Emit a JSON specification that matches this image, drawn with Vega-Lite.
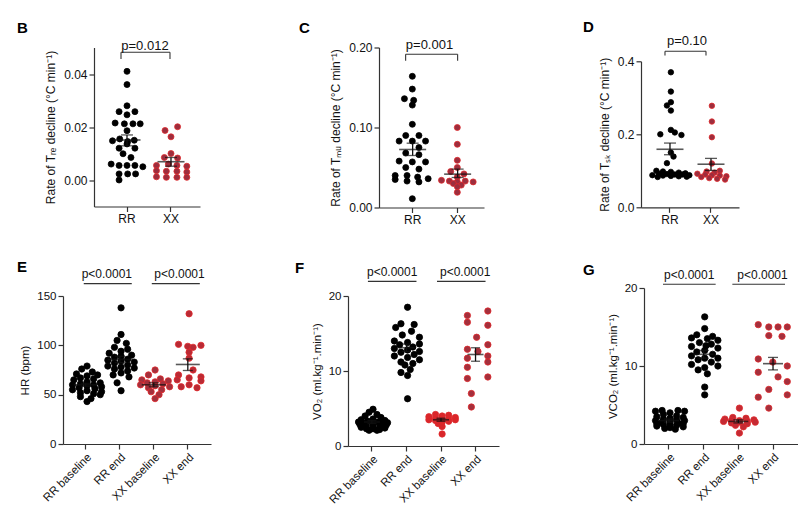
{
  "$schema": "https://vega.github.io/schema/vega-lite/v6.json",
  "padding": {"left": 17, "top": 19.5, "right": 0, "bottom": 0},
  "config": {
    "font": "Liberation Sans",
    "view": {"stroke": null},
    "axis": {"grid": false, "domainColor": "#333", "tickColor": "#333", "labelColor": "#111", "titleColor": "#111",
             "domainWidth": 1.2, "tickWidth": 1.2, "tickSize": 5, "labelFontSize": 12, "titleFontSize": 12,
             "titleFontWeight": "normal", "labelPadding": 2, "titlePadding": 6, "labelOverlap": false},
    "title": {"fontSize": 15, "fontWeight": "bold", "color": "#000"}
  },
  "datasets": {
    "none": [],
    "B": [
      {"g":"RR","v":0.041,"j":0},{"g":"RR","v":0.036,"j":0},{"g":"RR","v":0.028,"j":0},{"g":"RR","v":0.0258,"j":-0.6},{"g":"RR","v":0.0258,"j":0.6},
      {"g":"RR","v":0.0246,"j":0},{"g":"RR","v":0.0215,"j":-0.9},{"g":"RR","v":0.0212,"j":-0.2},{"g":"RR","v":0.0212,"j":0.45},{"g":"RR","v":0.0212,"j":1.0},
      {"g":"RR","v":0.0186,"j":0},{"g":"RR","v":0.0155,"j":-0.55},{"g":"RR","v":0.015,"j":0.55},{"g":"RR","v":0.0148,"j":-1.1},{"g":"RR","v":0.0145,"j":0.05},
      {"g":"RR","v":0.0136,"j":0},{"g":"RR","v":0.012,"j":-0.6},{"g":"RR","v":0.012,"j":0.6},{"g":"RR","v":0.0099,"j":-0.3},{"g":"RR","v":0.0085,"j":0.3},
      {"g":"RR","v":0.006,"j":-1.2},{"g":"RR","v":0.0055,"j":-0.6},{"g":"RR","v":0.0055,"j":0},{"g":"RR","v":0.0055,"j":0.6},{"g":"RR","v":0.005,"j":1.2},
      {"g":"RR","v":0.0023,"j":-0.6},{"g":"RR","v":0.0023,"j":0.05},{"g":"RR","v":0.0023,"j":0.65},{"g":"RR","v":0.0,"j":-0.6},
      {"g":"XX","v":0.0201,"j":0.5},{"g":"XX","v":0.0187,"j":-0.45},{"g":"XX","v":0.0163,"j":0},{"g":"XX","v":0.01,"j":0},{"g":"XX","v":0.0085,"j":-0.5},
      {"g":"XX","v":0.0083,"j":0.5},{"g":"XX","v":0.006,"j":-0.2},{"g":"XX","v":0.0055,"j":-1.1},{"g":"XX","v":0.0055,"j":0.45},{"g":"XX","v":0.0052,"j":1.2},
      {"g":"XX","v":0.0035,"j":-1.1},{"g":"XX","v":0.0033,"j":-0.35},{"g":"XX","v":0.0033,"j":0.45},{"g":"XX","v":0.003,"j":1.2},{"g":"XX","v":0.0012,"j":-1.1},
      {"g":"XX","v":0.001,"j":-0.35},{"g":"XX","v":0.001,"j":0.45},{"g":"XX","v":0.001,"j":1.2}
    ],
    "Bs": [{"g":"RR","mean":0.0151,"lo":0.0129,"hi":0.017},{"g":"XX","mean":0.0069,"lo":0.0052,"hi":0.0085}],
    "Bp": [{"a":"RR","b":"XX","y":0.0482,"y0":0.0457,"ty":0.0507,"j":1.36,"label":"p=0.012"}],
    "C": [
      {"g":"RR","v":0.164,"j":0},{"g":"RR","v":0.148,"j":0},{"g":"RR","v":0.136,"j":-0.6},{"g":"RR","v":0.134,"j":0.1},{"g":"RR","v":0.128,"j":0},
      {"g":"RR","v":0.104,"j":0},{"g":"RR","v":0.09,"j":-0.5},{"g":"RR","v":0.09,"j":0.5},{"g":"RR","v":0.083,"j":-1.0},{"g":"RR","v":0.083,"j":0},
      {"g":"RR","v":0.083,"j":1.0},{"g":"RR","v":0.075,"j":0.5},{"g":"RR","v":0.068,"j":-0.5},{"g":"RR","v":0.066,"j":0.5},{"g":"RR","v":0.058,"j":-1.0},
      {"g":"RR","v":0.057,"j":0},{"g":"RR","v":0.057,"j":1.0},{"g":"RR","v":0.05,"j":-0.5},{"g":"RR","v":0.048,"j":0.5},{"g":"RR","v":0.04,"j":-1.3},
      {"g":"RR","v":0.04,"j":-0.4},{"g":"RR","v":0.038,"j":0.4},{"g":"RR","v":0.036,"j":1.2},{"g":"RR","v":0.035,"j":-1.3},{"g":"RR","v":0.033,"j":-0.4},
      {"g":"RR","v":0.032,"j":0.5},{"g":"RR","v":0.011,"j":0},
      {"g":"XX","v":0.1,"j":0},{"g":"XX","v":0.079,"j":0},{"g":"XX","v":0.059,"j":0},{"g":"XX","v":0.05,"j":0},{"g":"XX","v":0.045,"j":-0.5},
      {"g":"XX","v":0.042,"j":0.5},{"g":"XX","v":0.038,"j":0},{"g":"XX","v":0.034,"j":-1.2},{"g":"XX","v":0.033,"j":-0.6},{"g":"XX","v":0.032,"j":0},
      {"g":"XX","v":0.033,"j":0.6},{"g":"XX","v":0.032,"j":1.2},{"g":"XX","v":0.03,"j":-0.3},{"g":"XX","v":0.028,"j":0.3},{"g":"XX","v":0.026,"j":0},
      {"g":"XX","v":0.019,"j":0}
    ],
    "Cs": [{"g":"RR","mean":0.0725,"lo":0.065,"hi":0.0804},{"g":"XX","mean":0.0417,"lo":0.0375,"hi":0.048}],
    "Cp": [{"a":"RR","b":"XX","y":0.1916,"y0":0.1834,"ty":0.2034,"j":1.3,"label":"p=0.001"}],
    "D": [
      {"g":"RR","v":0.37,"j":0},{"g":"RR","v":0.317,"j":0},{"g":"RR","v":0.288,"j":0},{"g":"RR","v":0.279,"j":-0.3},{"g":"RR","v":0.265,"j":0},
      {"g":"RR","v":0.212,"j":0},{"g":"RR","v":0.205,"j":0.3},{"g":"RR","v":0.2,"j":-0.8},{"g":"RR","v":0.198,"j":0.8},{"g":"RR","v":0.15,"j":0},
      {"g":"RR","v":0.139,"j":0.2},{"g":"RR","v":0.121,"j":-0.3},{"g":"RR","v":0.1,"j":-1.1},{"g":"RR","v":0.098,"j":-0.6},{"g":"RR","v":0.097,"j":0},
      {"g":"RR","v":0.095,"j":0.6},{"g":"RR","v":0.093,"j":1.1},{"g":"RR","v":0.092,"j":-0.9},{"g":"RR","v":0.091,"j":-0.3},{"g":"RR","v":0.09,"j":0.3},
      {"g":"RR","v":0.09,"j":0.9},{"g":"RR","v":0.088,"j":1.4},{"g":"RR","v":0.088,"j":-1.4},{"g":"RR","v":0.087,"j":-0.6},{"g":"RR","v":0.086,"j":0},
      {"g":"RR","v":0.085,"j":0.6},{"g":"RR","v":0.084,"j":1.2},{"g":"RR","v":0.083,"j":-1.0},
      {"g":"XX","v":0.278,"j":0},{"g":"XX","v":0.235,"j":0},{"g":"XX","v":0.192,"j":0},{"g":"XX","v":0.12,"j":0},{"g":"XX","v":0.1,"j":0.6},
      {"g":"XX","v":0.098,"j":-0.4},{"g":"XX","v":0.095,"j":0.2},{"g":"XX","v":0.092,"j":-1.1},{"g":"XX","v":0.09,"j":-0.5},{"g":"XX","v":0.088,"j":0},
      {"g":"XX","v":0.087,"j":0.6},{"g":"XX","v":0.085,"j":1.1},{"g":"XX","v":0.083,"j":-0.8},{"g":"XX","v":0.08,"j":-0.2},{"g":"XX","v":0.078,"j":0.4},
      {"g":"XX","v":0.076,"j":1.0}
    ],
    "Ds": [{"g":"RR","mean":0.159,"lo":0.144,"hi":0.176},{"g":"XX","mean":0.118,"lo":0.101,"hi":0.134}],
    "Dp": [{"a":"RR","b":"XX","y":0.4275,"y0":0.4157,"ty":0.4563,"j":1.22,"label":"p=0.10"}],
    "E": [
      {"g":"RR baseline","v":79,"j":0},{"g":"RR baseline","v":76,"j":-0.4},{"g":"RR baseline","v":73,"j":0.4},{"g":"RR baseline","v":71,"j":-0.8},{"g":"RR baseline","v":70,"j":0.8},
      {"g":"RR baseline","v":69,"j":0},{"g":"RR baseline","v":67,"j":-0.5},{"g":"RR baseline","v":66,"j":0.5},{"g":"RR baseline","v":65,"j":-1.0},{"g":"RR baseline","v":63,"j":0},
      {"g":"RR baseline","v":62,"j":1.0},{"g":"RR baseline","v":61,"j":-0.5},{"g":"RR baseline","v":60,"j":0.5},{"g":"RR baseline","v":60,"j":-1.1},{"g":"RR baseline","v":59,"j":0},
      {"g":"RR baseline","v":58,"j":1.1},{"g":"RR baseline","v":57,"j":-0.6},{"g":"RR baseline","v":56,"j":0.6},{"g":"RR baseline","v":55,"j":-1.1},{"g":"RR baseline","v":54,"j":0},
      {"g":"RR baseline","v":53,"j":1.1},{"g":"RR baseline","v":52,"j":-0.5},{"g":"RR baseline","v":51,"j":0.5},{"g":"RR baseline","v":50,"j":1.0},{"g":"RR baseline","v":48,"j":-0.5},
      {"g":"RR baseline","v":46,"j":0.3},{"g":"RR baseline","v":43,"j":0},
      {"g":"RR end","v":138,"j":0},{"g":"RR end","v":111,"j":0},{"g":"RR end","v":105,"j":-0.3},{"g":"RR end","v":102,"j":0.4},{"g":"RR end","v":98,"j":-0.5},
      {"g":"RR end","v":96,"j":0.5},{"g":"RR end","v":94,"j":0},{"g":"RR end","v":92,"j":-0.9},{"g":"RR end","v":90,"j":0.8},{"g":"RR end","v":89,"j":0},
      {"g":"RR end","v":88,"j":-0.5},{"g":"RR end","v":86,"j":0.5},{"g":"RR end","v":85,"j":-1.0},{"g":"RR end","v":84,"j":0},{"g":"RR end","v":83,"j":1.0},
      {"g":"RR end","v":82,"j":-0.5},{"g":"RR end","v":80,"j":0.5},{"g":"RR end","v":79,"j":-1.0},{"g":"RR end","v":78,"j":0},{"g":"RR end","v":77,"j":1.0},
      {"g":"RR end","v":76,"j":-0.5},{"g":"RR end","v":74,"j":0.5},{"g":"RR end","v":72,"j":0},{"g":"RR end","v":70,"j":-0.6},{"g":"RR end","v":68,"j":0.6},
      {"g":"RR end","v":62,"j":-0.3},{"g":"RR end","v":54,"j":0},
      {"g":"XX baseline","v":75,"j":0},{"g":"XX baseline","v":70,"j":-0.5},{"g":"XX baseline","v":66,"j":0.4},{"g":"XX baseline","v":65,"j":-1.0},{"g":"XX baseline","v":64,"j":1.0},
      {"g":"XX baseline","v":63,"j":0},{"g":"XX baseline","v":62,"j":-0.6},{"g":"XX baseline","v":61,"j":0.6},{"g":"XX baseline","v":60,"j":-1.1},{"g":"XX baseline","v":59,"j":0},
      {"g":"XX baseline","v":58,"j":1.1},{"g":"XX baseline","v":57,"j":-0.5},{"g":"XX baseline","v":55,"j":0.5},{"g":"XX baseline","v":53,"j":-0.3},{"g":"XX baseline","v":50,"j":0.3},
      {"g":"XX baseline","v":46,"j":0},
      {"g":"XX end","v":132,"j":0},{"g":"XX end","v":101,"j":-0.8},{"g":"XX end","v":100,"j":0.9},{"g":"XX end","v":99,"j":-0.1},{"g":"XX end","v":98,"j":0.3},
      {"g":"XX end","v":93,"j":0},{"g":"XX end","v":87,"j":0},{"g":"XX end","v":75,"j":0.3},{"g":"XX end","v":70,"j":-0.8},{"g":"XX end","v":68,"j":0.9},
      {"g":"XX end","v":67,"j":0},{"g":"XX end","v":65,"j":-0.9},{"g":"XX end","v":64,"j":0.9},{"g":"XX end","v":60,"j":0},{"g":"XX end","v":58,"j":-0.6},
      {"g":"XX end","v":57,"j":0.6}
    ],
    "Es": [{"g":"RR baseline","mean":60,"lo":58.5,"hi":61.5},{"g":"RR end","mean":85.7,"lo":82.5,"hi":89},{"g":"XX baseline","mean":60,"lo":58,"hi":62},{"g":"XX end","mean":80.6,"lo":74.5,"hi":86.3}],
    "Ep": [{"a":"RR baseline","b":"RR end","y":162.6,"ty":172,"j":1.5,"label":"p<0.0001"},{"a":"XX baseline","b":"XX end","y":162.6,"ty":172,"j":1.85,"label":"p<0.0001"}],
    "F": [
      {"g":"RR baseline","v":4.9,"j":0},{"g":"RR baseline","v":4.5,"j":-0.3},{"g":"RR baseline","v":4.2,"j":0.3},{"g":"RR baseline","v":4.0,"j":-0.6},{"g":"RR baseline","v":3.8,"j":0.6},
      {"g":"RR baseline","v":3.6,"j":0},{"g":"RR baseline","v":3.5,"j":-0.9},{"g":"RR baseline","v":3.4,"j":0.9},{"g":"RR baseline","v":3.3,"j":-0.4},{"g":"RR baseline","v":3.2,"j":0.4},
      {"g":"RR baseline","v":3.2,"j":-1.1},{"g":"RR baseline","v":3.1,"j":1.1},{"g":"RR baseline","v":3.1,"j":0},{"g":"RR baseline","v":3.0,"j":-0.6},{"g":"RR baseline","v":3.0,"j":0.6},
      {"g":"RR baseline","v":2.9,"j":-1.0},{"g":"RR baseline","v":2.8,"j":1.0},{"g":"RR baseline","v":2.8,"j":0},{"g":"RR baseline","v":2.7,"j":-0.5},{"g":"RR baseline","v":2.6,"j":0.5},
      {"g":"RR baseline","v":2.5,"j":-0.9},{"g":"RR baseline","v":2.4,"j":0.9},{"g":"RR baseline","v":2.3,"j":0},{"g":"RR baseline","v":2.3,"j":-0.5},{"g":"RR baseline","v":2.2,"j":0.5},
      {"g":"RR baseline","v":2.1,"j":-0.3},{"g":"RR baseline","v":2.1,"j":0.3},
      {"g":"RR end","v":18.5,"j":0},{"g":"RR end","v":16.3,"j":-0.5},{"g":"RR end","v":16.2,"j":0.5},{"g":"RR end","v":15.8,"j":-0.9},{"g":"RR end","v":15.3,"j":0.3},
      {"g":"RR end","v":14.8,"j":-0.4},{"g":"RR end","v":14.5,"j":0.9},{"g":"RR end","v":14.0,"j":-1.0},{"g":"RR end","v":13.8,"j":0},{"g":"RR end","v":13.6,"j":0.9},
      {"g":"RR end","v":13.5,"j":-0.6},{"g":"RR end","v":13.2,"j":0.4},{"g":"RR end","v":13.0,"j":-1.0},{"g":"RR end","v":12.8,"j":0},{"g":"RR end","v":12.6,"j":0.9},
      {"g":"RR end","v":12.5,"j":-0.5},{"g":"RR end","v":12.2,"j":0.5},{"g":"RR end","v":12.0,"j":-1.0},{"g":"RR end","v":11.8,"j":0},{"g":"RR end","v":11.5,"j":0.9},
      {"g":"RR end","v":11.2,"j":-0.5},{"g":"RR end","v":11.0,"j":0.4},{"g":"RR end","v":10.8,"j":-0.2},{"g":"RR end","v":10.2,"j":0.2},{"g":"RR end","v":9.8,"j":-0.5},
      {"g":"RR end","v":9.4,"j":0},{"g":"RR end","v":6.3,"j":0},
      {"g":"XX baseline","v":4.2,"j":-0.5},{"g":"XX baseline","v":4.1,"j":0.5},{"g":"XX baseline","v":4.0,"j":0},{"g":"XX baseline","v":3.9,"j":-1.0},{"g":"XX baseline","v":3.8,"j":1.0},
      {"g":"XX baseline","v":3.7,"j":-0.5},{"g":"XX baseline","v":3.6,"j":0.5},{"g":"XX baseline","v":3.6,"j":0},{"g":"XX baseline","v":3.5,"j":-1.0},{"g":"XX baseline","v":3.5,"j":1.0},
      {"g":"XX baseline","v":3.4,"j":-0.5},{"g":"XX baseline","v":3.3,"j":0.5},{"g":"XX baseline","v":3.2,"j":0},{"g":"XX baseline","v":3.0,"j":-0.3},{"g":"XX baseline","v":2.6,"j":0},
      {"g":"XX baseline","v":1.6,"j":0},
      {"g":"XX end","v":18.0,"j":0.85},{"g":"XX end","v":17.4,"j":-0.7},{"g":"XX end","v":16.5,"j":-0.7},{"g":"XX end","v":16.1,"j":0.85},{"g":"XX end","v":14.5,"j":0},
      {"g":"XX end","v":13.5,"j":0.85},{"g":"XX end","v":12.9,"j":-0.7},{"g":"XX end","v":12.6,"j":0.1},{"g":"XX end","v":12.0,"j":0.85},{"g":"XX end","v":11.7,"j":-0.7},
      {"g":"XX end","v":11.2,"j":0.85},{"g":"XX end","v":10.5,"j":-0.7},{"g":"XX end","v":9.2,"j":0.85},{"g":"XX end","v":9.0,"j":-0.7},{"g":"XX end","v":7.0,"j":-0.4},
      {"g":"XX end","v":5.2,"j":-0.4}
    ],
    "Fs": [{"g":"RR baseline","mean":3.2,"lo":3.0,"hi":3.4},{"g":"RR end","mean":13.1,"lo":12.6,"hi":13.6},{"g":"XX baseline","mean":3.5,"lo":3.3,"hi":3.7},{"g":"XX end","mean":12.2,"lo":11.3,"hi":13.1}],
    "Fp": [{"a":"RR baseline","b":"RR end","y":21.96,"ty":23.15,"j":1.45,"label":"p<0.0001"},{"a":"XX baseline","b":"XX end","y":21.96,"ty":23.15,"j":1.75,"label":"p<0.0001"}],
    "G": [
      {"g":"RR baseline","v":4.3,"j":-0.6},{"g":"RR baseline","v":4.3,"j":0.6},{"g":"RR baseline","v":4.2,"j":-1.1},{"g":"RR baseline","v":4.2,"j":1.1},{"g":"RR baseline","v":4.0,"j":0},
      {"g":"RR baseline","v":3.8,"j":-0.5},{"g":"RR baseline","v":3.6,"j":0.5},{"g":"RR baseline","v":3.5,"j":-1.0},{"g":"RR baseline","v":3.4,"j":1.0},{"g":"RR baseline","v":3.3,"j":0},
      {"g":"RR baseline","v":3.2,"j":-0.5},{"g":"RR baseline","v":3.1,"j":0.5},{"g":"RR baseline","v":3.0,"j":-1.1},{"g":"RR baseline","v":3.0,"j":1.1},{"g":"RR baseline","v":2.9,"j":0},
      {"g":"RR baseline","v":2.8,"j":-0.6},{"g":"RR baseline","v":2.7,"j":0.6},{"g":"RR baseline","v":2.6,"j":-1.0},{"g":"RR baseline","v":2.6,"j":1.0},{"g":"RR baseline","v":2.5,"j":0},
      {"g":"RR baseline","v":2.5,"j":-0.5},{"g":"RR baseline","v":2.4,"j":0.5},{"g":"RR baseline","v":2.3,"j":-1.0},{"g":"RR baseline","v":2.2,"j":1.0},{"g":"RR baseline","v":2.1,"j":0},
      {"g":"RR baseline","v":2.0,"j":-0.4},{"g":"RR baseline","v":1.9,"j":0.4},
      {"g":"RR end","v":16.3,"j":0},{"g":"RR end","v":14.8,"j":0},{"g":"RR end","v":14.0,"j":-0.6},{"g":"RR end","v":13.8,"j":0.6},{"g":"RR end","v":13.6,"j":-1.0},
      {"g":"RR end","v":13.5,"j":0.2},{"g":"RR end","v":13.3,"j":1.0},{"g":"RR end","v":13.0,"j":-0.4},{"g":"RR end","v":12.8,"j":0.5},{"g":"RR end","v":12.6,"j":0.1},
      {"g":"RR end","v":12.5,"j":-1.0},{"g":"RR end","v":12.3,"j":1.0},{"g":"RR end","v":12.0,"j":0},{"g":"RR end","v":11.8,"j":-0.6},{"g":"RR end","v":11.5,"j":0.6},
      {"g":"RR end","v":11.3,"j":-1.0},{"g":"RR end","v":11.0,"j":1.0},{"g":"RR end","v":11.0,"j":0},{"g":"RR end","v":10.8,"j":-0.5},{"g":"RR end","v":10.5,"j":0.5},
      {"g":"RR end","v":10.2,"j":-1.0},{"g":"RR end","v":10.0,"j":1.0},{"g":"RR end","v":9.8,"j":0},{"g":"RR end","v":9.5,"j":-0.5},{"g":"RR end","v":9.0,"j":0.2},
      {"g":"RR end","v":7.3,"j":0},{"g":"RR end","v":6.3,"j":0},
      {"g":"XX baseline","v":4.6,"j":0},{"g":"XX baseline","v":3.4,"j":-0.5},{"g":"XX baseline","v":3.3,"j":0.5},{"g":"XX baseline","v":3.2,"j":-1.1},{"g":"XX baseline","v":3.1,"j":1.1},
      {"g":"XX baseline","v":3.0,"j":0},{"g":"XX baseline","v":3.0,"j":-0.6},{"g":"XX baseline","v":2.9,"j":0.6},{"g":"XX baseline","v":2.9,"j":-1.2},{"g":"XX baseline","v":2.8,"j":1.2},
      {"g":"XX baseline","v":2.8,"j":0},{"g":"XX baseline","v":2.7,"j":-0.6},{"g":"XX baseline","v":2.6,"j":0.6},{"g":"XX baseline","v":2.4,"j":-0.3},{"g":"XX baseline","v":2.2,"j":0.3},
      {"g":"XX baseline","v":1.4,"j":0},
      {"g":"XX end","v":15.3,"j":-1.2},{"g":"XX end","v":15.0,"j":-0.4},{"g":"XX end","v":15.0,"j":0.3},{"g":"XX end","v":15.0,"j":1.0},{"g":"XX end","v":13.9,"j":-0.4},
      {"g":"XX end","v":13.8,"j":0.6},{"g":"XX end","v":10.9,"j":-1.2},{"g":"XX end","v":10.5,"j":-0.1},{"g":"XX end","v":10.0,"j":1.0},{"g":"XX end","v":9.2,"j":-1.2},
      {"g":"XX end","v":8.6,"j":0.3},{"g":"XX end","v":8.0,"j":1.0},{"g":"XX end","v":7.0,"j":-0.4},{"g":"XX end","v":6.3,"j":1.0},{"g":"XX end","v":6.0,"j":-1.2},
      {"g":"XX end","v":4.6,"j":-0.4}
    ],
    "Gs": [{"g":"RR baseline","mean":3.0,"lo":2.8,"hi":3.2},{"g":"RR end","mean":11.5,"lo":11.0,"hi":12.0},{"g":"XX baseline","mean":2.9,"lo":2.7,"hi":3.1},{"g":"XX end","mean":10.3,"lo":9.5,"hi":11.1}],
    "Gp": [{"a":"RR baseline","b":"RR end","y":20.48,"ty":21.63,"j":1.45,"label":"p<0.0001"},{"a":"XX baseline","b":"XX end","y":20.48,"ty":21.63,"j":1.75,"label":"p<0.0001"}]
  },
  "resolve": {"scale": {"fill": "independent", "stroke": "independent"}},
  "spacing": 34.5,
  "vconcat": [
    {
      "spacing": -47,
      "resolve": {"scale": {"fill": "independent", "stroke": "independent"}},
      "hconcat": [
        {"width": 1, "height": 1, "data": {"name": "none"}, "mark": "point"},
        {
          "spacing": 99,
          "resolve": {"scale": {"fill": "independent", "stroke": "independent"}},
          "hconcat": [
            {
              "width": 106, "height": 159,
              "title": {"text": "B", "anchor": "start", "frame": "group", "dx": -77, "offset": 3.9},
              "layer": [
                {"data": {"name": "B"}, "mark": {"type": "circle", "size": 36, "opacity": 1, "strokeWidth": 0.8},
                 "encoding": {
                   "x": {"field": "g", "type": "nominal", "scale": {"type": "band", "domain": ["RR", "XX"], "paddingInner": 0.4, "paddingOuter": 0.405, "align": 0.556}, "axis": {"title": null, "labelAngle": 0}},
                   "xOffset": {"field": "j", "type": "quantitative", "scale": {"domain": [-1, 1]}},
                   "y": {"field": "v", "type": "quantitative", "scale": {"domain": [-0.01, 0.05], "nice": false, "zero": false}, "axis": {"title": "Rate of Tᵣₑ decline (°C min⁻¹)", "values": [0, 0.01, 0.02, 0.03, 0.04, 0.05], "format": ".2f", "labelOverlap": false}},
                   "fill": {"field": "g", "type": "nominal", "scale": {"domain": ["RR", "XX"], "range": ["#000000", "#9c2e3e"]}, "legend": null},
                   "stroke": {"field": "g", "type": "nominal", "scale": {"domain": ["RR", "XX"], "range": ["#000000", "#e0282b"]}, "legend": null}
                 }},
                {"data": {"name": "Bs"}, "mark": {"type": "tick", "orient": "horizontal", "size": 27, "thickness": 1.6, "color": "#111"},
                 "encoding": {"x": {"field": "g", "type": "nominal"}, "y": {"field": "mean", "type": "quantitative"}}},
                {"data": {"name": "Bs"}, "mark": {"type": "rule", "strokeWidth": 1.3, "color": "#111"},
                 "encoding": {"x": {"field": "g", "type": "nominal"}, "y": {"field": "lo", "type": "quantitative"}, "y2": {"field": "hi"}}},
                {"data": {"name": "Bs"}, "mark": {"type": "tick", "orient": "horizontal", "size": 12, "thickness": 1.3, "color": "#111"},
                 "encoding": {"x": {"field": "g", "type": "nominal"}, "y": {"field": "lo", "type": "quantitative"}}},
                {"data": {"name": "Bs"}, "mark": {"type": "tick", "orient": "horizontal", "size": 12, "thickness": 1.3, "color": "#111"},
                 "encoding": {"x": {"field": "g", "type": "nominal"}, "y": {"field": "hi", "type": "quantitative"}}},
                {"data": {"name": "Bp"}, "mark": {"type": "rule", "color": "#333", "strokeWidth": 1.1, "xOffset": -6, "x2Offset": -1},
                 "encoding": {"x": {"field": "a", "type": "nominal"}, "x2": {"field": "b"}, "y": {"field": "y", "type": "quantitative"}}},
                {"data": {"name": "Bp"}, "mark": {"type": "rule", "color": "#333", "strokeWidth": 1.1, "xOffset": -6},
                 "encoding": {"x": {"field": "a", "type": "nominal"}, "y": {"field": "y0", "type": "quantitative"}, "y2": {"field": "y"}}},
                {"data": {"name": "Bp"}, "mark": {"type": "rule", "color": "#333", "strokeWidth": 1.1, "xOffset": -1},
                 "encoding": {"x": {"field": "b", "type": "nominal"}, "y": {"field": "y0", "type": "quantitative"}, "y2": {"field": "y"}}},
                {"data": {"name": "Bp"}, "mark": {"type": "text", "fontSize": 13, "color": "#111", "baseline": "middle"},
                 "encoding": {"x": {"field": "a", "type": "nominal"}, "xOffset": {"field": "j", "type": "quantitative"}, "y": {"field": "ty", "type": "quantitative"}, "text": {"field": "label"}}}
              ]
            },
            {
              "width": 105, "height": 160,
              "title": {"text": "C", "anchor": "start", "frame": "group", "dx": -80, "offset": 2.8},
              "layer": [
                {"data": {"name": "C"}, "mark": {"type": "circle", "size": 36, "opacity": 1, "strokeWidth": 0.8},
                 "encoding": {
                   "x": {"field": "g", "type": "nominal", "scale": {"type": "band", "domain": ["RR", "XX"], "paddingInner": 0.4, "paddingOuter": 0.367, "align": 0.61}, "axis": {"title": null, "labelAngle": 0}},
                   "xOffset": {"field": "j", "type": "quantitative", "scale": {"domain": [-1, 1]}},
                   "y": {"field": "v", "type": "quantitative", "scale": {"domain": [0, 0.2], "nice": false}, "axis": {"title": "Rate of Tₘᵤ decline (°C min⁻¹)", "values": [0, 0.05, 0.1, 0.15, 0.2], "format": ".2f", "labelOverlap": false}},
                   "fill": {"field": "g", "type": "nominal", "scale": {"domain": ["RR", "XX"], "range": ["#000000", "#9c2e3e"]}, "legend": null},
                   "stroke": {"field": "g", "type": "nominal", "scale": {"domain": ["RR", "XX"], "range": ["#000000", "#e0282b"]}, "legend": null}
                 }},
                {"data": {"name": "Cs"}, "mark": {"type": "tick", "orient": "horizontal", "size": 27, "thickness": 1.6, "color": "#111"},
                 "encoding": {"x": {"field": "g", "type": "nominal"}, "y": {"field": "mean", "type": "quantitative"}}},
                {"data": {"name": "Cs"}, "mark": {"type": "rule", "strokeWidth": 1.3, "color": "#111"},
                 "encoding": {"x": {"field": "g", "type": "nominal"}, "y": {"field": "lo", "type": "quantitative"}, "y2": {"field": "hi"}}},
                {"data": {"name": "Cs"}, "mark": {"type": "tick", "orient": "horizontal", "size": 12, "thickness": 1.3, "color": "#111"},
                 "encoding": {"x": {"field": "g", "type": "nominal"}, "y": {"field": "lo", "type": "quantitative"}}},
                {"data": {"name": "Cs"}, "mark": {"type": "tick", "orient": "horizontal", "size": 12, "thickness": 1.3, "color": "#111"},
                 "encoding": {"x": {"field": "g", "type": "nominal"}, "y": {"field": "hi", "type": "quantitative"}}},
                {"data": {"name": "Cp"}, "mark": {"type": "rule", "color": "#333", "strokeWidth": 1.1, "xOffset": -7, "x2Offset": 0},
                 "encoding": {"x": {"field": "a", "type": "nominal"}, "x2": {"field": "b"}, "y": {"field": "y", "type": "quantitative"}}},
                {"data": {"name": "Cp"}, "mark": {"type": "rule", "color": "#333", "strokeWidth": 1.1, "xOffset": -7},
                 "encoding": {"x": {"field": "a", "type": "nominal"}, "y": {"field": "y0", "type": "quantitative"}, "y2": {"field": "y"}}},
                {"data": {"name": "Cp"}, "mark": {"type": "rule", "color": "#333", "strokeWidth": 1.1, "xOffset": 0},
                 "encoding": {"x": {"field": "b", "type": "nominal"}, "y": {"field": "y0", "type": "quantitative"}, "y2": {"field": "y"}}},
                {"data": {"name": "Cp"}, "mark": {"type": "text", "fontSize": 13, "color": "#111", "baseline": "middle"},
                 "encoding": {"x": {"field": "a", "type": "nominal"}, "xOffset": {"field": "j", "type": "quantitative"}, "y": {"field": "ty", "type": "quantitative"}, "text": {"field": "label"}}}
              ]
            },
            {
              "spacing": -28.2,
              "vconcat": [
                {"width": 1, "height": 1, "data": {"name": "none"}, "mark": "point"},
                {
                  "width": 98, "height": 146,
                  "title": {"text": "D", "anchor": "start", "frame": "group", "dx": -58, "offset": -0.6},
                  "layer": [
                    {"data": {"name": "D"}, "mark": {"type": "circle", "size": 30, "opacity": 1, "strokeWidth": 0.8},
                     "encoding": {
                       "x": {"field": "g", "type": "nominal", "scale": {"type": "band", "domain": ["RR", "XX"], "paddingInner": 0.4, "paddingOuter": 0.395, "align": 0.515}, "axis": {"title": null, "labelAngle": 0}},
                       "xOffset": {"field": "j", "type": "quantitative", "scale": {"domain": [-1, 1]}},
                       "y": {"field": "v", "type": "quantitative", "scale": {"domain": [0, 0.4], "nice": false}, "axis": {"title": "Rate of Tₛₖ decline (°C min⁻¹)", "values": [0, 0.1, 0.2, 0.3, 0.4], "format": ".1f", "labelOverlap": false}},
                       "fill": {"field": "g", "type": "nominal", "scale": {"domain": ["RR", "XX"], "range": ["#000000", "#9c2e3e"]}, "legend": null},
                       "stroke": {"field": "g", "type": "nominal", "scale": {"domain": ["RR", "XX"], "range": ["#000000", "#e0282b"]}, "legend": null}
                     }},
                    {"data": {"name": "Ds"}, "mark": {"type": "tick", "orient": "horizontal", "size": 27, "thickness": 1.6, "color": "#111"},
                     "encoding": {"x": {"field": "g", "type": "nominal"}, "y": {"field": "mean", "type": "quantitative"}}},
                    {"data": {"name": "Ds"}, "mark": {"type": "rule", "strokeWidth": 1.3, "color": "#111"},
                     "encoding": {"x": {"field": "g", "type": "nominal"}, "y": {"field": "lo", "type": "quantitative"}, "y2": {"field": "hi"}}},
                    {"data": {"name": "Ds"}, "mark": {"type": "tick", "orient": "horizontal", "size": 12, "thickness": 1.3, "color": "#111"},
                     "encoding": {"x": {"field": "g", "type": "nominal"}, "y": {"field": "lo", "type": "quantitative"}}},
                    {"data": {"name": "Ds"}, "mark": {"type": "tick", "orient": "horizontal", "size": 12, "thickness": 1.3, "color": "#111"},
                     "encoding": {"x": {"field": "g", "type": "nominal"}, "y": {"field": "hi", "type": "quantitative"}}},
                    {"data": {"name": "Dp"}, "mark": {"type": "rule", "color": "#333", "strokeWidth": 1.1, "xOffset": -5, "x2Offset": -5},
                     "encoding": {"x": {"field": "a", "type": "nominal"}, "x2": {"field": "b"}, "y": {"field": "y", "type": "quantitative"}}},
                    {"data": {"name": "Dp"}, "mark": {"type": "rule", "color": "#333", "strokeWidth": 1.1, "xOffset": -5},
                     "encoding": {"x": {"field": "a", "type": "nominal"}, "y": {"field": "y0", "type": "quantitative"}, "y2": {"field": "y"}}},
                    {"data": {"name": "Dp"}, "mark": {"type": "rule", "color": "#333", "strokeWidth": 1.1, "xOffset": -5},
                     "encoding": {"x": {"field": "b", "type": "nominal"}, "y": {"field": "y0", "type": "quantitative"}, "y2": {"field": "y"}}},
                    {"data": {"name": "Dp"}, "mark": {"type": "text", "fontSize": 13, "color": "#111", "baseline": "middle"},
                     "encoding": {"x": {"field": "a", "type": "nominal"}, "xOffset": {"field": "j", "type": "quantitative"}, "y": {"field": "ty", "type": "quantitative"}, "text": {"field": "label"}}}
                  ]
                }
              ]
            }
          ]
        }
      ]
    },
    {
      "spacing": 84,
      "resolve": {"scale": {"fill": "independent", "stroke": "independent"}},
      "hconcat": [
        {
          "spacing": -29,
          "resolve": {"scale": {"fill": "independent", "stroke": "independent"}},
          "vconcat": [
            {"width": 1, "height": 1, "data": {"name": "none"}, "mark": "point"},
            {
              "spacing": 84,
              "resolve": {"scale": {"fill": "independent", "stroke": "independent"}},
              "hconcat": [
                {
                  "width": 148, "height": 148,
                  "title": {"text": "E", "anchor": "start", "frame": "group", "dx": -46, "offset": -6.9},
                  "layer": [
                    {"data": {"name": "E"}, "mark": {"type": "circle", "size": 40, "opacity": 1, "strokeWidth": 0.8},
                     "encoding": {
                       "x": {"field": "g", "type": "nominal", "scale": {"type": "band", "domain": ["RR baseline", "RR end", "XX baseline", "XX end"], "paddingInner": 0.3, "paddingOuter": 0.325, "align": 0.49}, "axis": {"title": null, "labelAngle": -45, "labelFontSize": 11.5}},
                       "xOffset": {"field": "j", "type": "quantitative", "scale": {"domain": [-1, 1]}},
                       "y": {"field": "v", "type": "quantitative", "scale": {"domain": [0, 150], "nice": false}, "axis": {"title": "HR (bpm)", "values": [0, 50, 100, 150], "labelFontSize": 11.5, "titleFontSize": 11.5, "labelOverlap": false}},
                       "fill": {"field": "g", "type": "nominal", "scale": {"domain": ["RR baseline", "RR end", "XX baseline", "XX end"], "range": ["#000000", "#000000", "#a3303d", "#b82a35"]}, "legend": null},
                       "stroke": {"field": "g", "type": "nominal", "scale": {"domain": ["RR baseline", "RR end", "XX baseline", "XX end"], "range": ["#000000", "#000000", "#e0282b", "#e0282b"]}, "legend": null}
                     }},
                    {"data": {"name": "Es"}, "mark": {"type": "tick", "orient": "horizontal", "size": 24, "thickness": 1.6, "color": "#111"},
                     "encoding": {"x": {"field": "g", "type": "nominal"}, "y": {"field": "mean", "type": "quantitative"}}},
                    {"data": {"name": "Es"}, "mark": {"type": "rule", "strokeWidth": 1.3, "color": "#111"},
                     "encoding": {"x": {"field": "g", "type": "nominal"}, "y": {"field": "lo", "type": "quantitative"}, "y2": {"field": "hi"}}},
                    {"data": {"name": "Es"}, "mark": {"type": "tick", "orient": "horizontal", "size": 10, "thickness": 1.3, "color": "#111"},
                     "encoding": {"x": {"field": "g", "type": "nominal"}, "y": {"field": "lo", "type": "quantitative"}}},
                    {"data": {"name": "Es"}, "mark": {"type": "tick", "orient": "horizontal", "size": 10, "thickness": 1.3, "color": "#111"},
                     "encoding": {"x": {"field": "g", "type": "nominal"}, "y": {"field": "hi", "type": "quantitative"}}},
                    {"data": {"name": "Ep"}, "mark": {"type": "rule", "color": "#333", "strokeWidth": 1.2, "xOffset": -2, "x2Offset": 12},
                     "encoding": {"x": {"field": "a", "type": "nominal"}, "x2": {"field": "b"}, "y": {"field": "y", "type": "quantitative"}}},
                    {"data": {"name": "Ep"}, "mark": {"type": "text", "fontSize": 12, "color": "#111", "baseline": "middle"},
                     "encoding": {"x": {"field": "a", "type": "nominal"}, "xOffset": {"field": "j", "type": "quantitative"}, "y": {"field": "ty", "type": "quantitative"}, "text": {"field": "label"}}}
                  ]
                },
                {
                  "width": 151, "height": 150,
                  "title": {"text": "F", "anchor": "start", "frame": "group", "dx": -53, "offset": -9.8},
                  "layer": [
                    {"data": {"name": "F"}, "mark": {"type": "circle", "size": 40, "opacity": 1, "strokeWidth": 0.8},
                     "encoding": {
                       "x": {"field": "g", "type": "nominal", "scale": {"type": "band", "domain": ["RR baseline", "RR end", "XX baseline", "XX end"], "paddingInner": 0.3, "paddingOuter": 0.336, "align": 0.51}, "axis": {"title": null, "labelAngle": -45, "labelFontSize": 11.5}},
                       "xOffset": {"field": "j", "type": "quantitative", "scale": {"domain": [-1, 1]}},
                       "y": {"field": "v", "type": "quantitative", "scale": {"domain": [0, 20], "nice": false}, "axis": {"title": "VO₂ (ml.kg⁻¹.min⁻¹)", "values": [0, 5, 10, 15, 20], "labelFontSize": 11.5, "titleFontSize": 11.5, "labelOverlap": false}},
                       "fill": {"field": "g", "type": "nominal", "scale": {"domain": ["RR baseline", "RR end", "XX baseline", "XX end"], "range": ["#000000", "#000000", "#d9262a", "#a3303d"]}, "legend": null},
                       "stroke": {"field": "g", "type": "nominal", "scale": {"domain": ["RR baseline", "RR end", "XX baseline", "XX end"], "range": ["#000000", "#000000", "#e0282b", "#e0282b"]}, "legend": null}
                     }},
                    {"data": {"name": "Fs"}, "mark": {"type": "tick", "orient": "horizontal", "size": 16, "thickness": 1.6, "color": "#111"},
                     "encoding": {"x": {"field": "g", "type": "nominal"}, "y": {"field": "mean", "type": "quantitative"}}},
                    {"data": {"name": "Fs"}, "mark": {"type": "rule", "strokeWidth": 1.3, "color": "#111"},
                     "encoding": {"x": {"field": "g", "type": "nominal"}, "y": {"field": "lo", "type": "quantitative"}, "y2": {"field": "hi"}}},
                    {"data": {"name": "Fs"}, "mark": {"type": "tick", "orient": "horizontal", "size": 9, "thickness": 1.3, "color": "#111"},
                     "encoding": {"x": {"field": "g", "type": "nominal"}, "y": {"field": "lo", "type": "quantitative"}}},
                    {"data": {"name": "Fs"}, "mark": {"type": "tick", "orient": "horizontal", "size": 9, "thickness": 1.3, "color": "#111"},
                     "encoding": {"x": {"field": "g", "type": "nominal"}, "y": {"field": "hi", "type": "quantitative"}}},
                    {"data": {"name": "Fp"}, "mark": {"type": "rule", "color": "#333", "strokeWidth": 1.2, "xOffset": -4, "x2Offset": 10},
                     "encoding": {"x": {"field": "a", "type": "nominal"}, "x2": {"field": "b"}, "y": {"field": "y", "type": "quantitative"}}},
                    {"data": {"name": "Fp"}, "mark": {"type": "text", "fontSize": 12, "color": "#111", "baseline": "middle"},
                     "encoding": {"x": {"field": "a", "type": "nominal"}, "xOffset": {"field": "j", "type": "quantitative"}, "y": {"field": "ty", "type": "quantitative"}, "text": {"field": "label"}}}
                  ]
                }
              ]
            }
          ]
        },
        {
          "width": 154, "height": 156,
          "title": {"text": "G", "anchor": "start", "frame": "group", "dx": -61, "offset": -9},
          "layer": [
            {"data": {"name": "G"}, "mark": {"type": "circle", "size": 40, "opacity": 1, "strokeWidth": 0.8},
             "encoding": {
               "x": {"field": "g", "type": "nominal", "scale": {"type": "band", "domain": ["RR baseline", "RR end", "XX baseline", "XX end"], "paddingInner": 0.3, "paddingOuter": 0.37, "align": 0.5}, "axis": {"title": null, "labelAngle": -45, "labelFontSize": 11.5}},
               "xOffset": {"field": "j", "type": "quantitative", "scale": {"domain": [-1, 1]}},
               "y": {"field": "v", "type": "quantitative", "scale": {"domain": [0, 20], "nice": false}, "axis": {"title": "VCO₂ (ml.kg⁻¹.min⁻¹)", "values": [0, 5, 10, 15, 20], "labelFontSize": 11.5, "titleFontSize": 11.5, "labelOverlap": false}},
               "fill": {"field": "g", "type": "nominal", "scale": {"domain": ["RR baseline", "RR end", "XX baseline", "XX end"], "range": ["#000000", "#000000", "#c42a33", "#a3303d"]}, "legend": null},
               "stroke": {"field": "g", "type": "nominal", "scale": {"domain": ["RR baseline", "RR end", "XX baseline", "XX end"], "range": ["#000000", "#000000", "#e0282b", "#e0282b"]}, "legend": null}
             }},
            {"data": {"name": "Gs"}, "mark": {"type": "tick", "orient": "horizontal", "size": 20, "thickness": 1.6, "color": "#111"},
             "encoding": {"x": {"field": "g", "type": "nominal"}, "y": {"field": "mean", "type": "quantitative"}}},
            {"data": {"name": "Gs"}, "mark": {"type": "rule", "strokeWidth": 1.3, "color": "#111"},
             "encoding": {"x": {"field": "g", "type": "nominal"}, "y": {"field": "lo", "type": "quantitative"}, "y2": {"field": "hi"}}},
            {"data": {"name": "Gs"}, "mark": {"type": "tick", "orient": "horizontal", "size": 10, "thickness": 1.3, "color": "#111"},
             "encoding": {"x": {"field": "g", "type": "nominal"}, "y": {"field": "lo", "type": "quantitative"}}},
            {"data": {"name": "Gs"}, "mark": {"type": "tick", "orient": "horizontal", "size": 10, "thickness": 1.3, "color": "#111"},
             "encoding": {"x": {"field": "g", "type": "nominal"}, "y": {"field": "hi", "type": "quantitative"}}},
            {"data": {"name": "Gp"}, "mark": {"type": "rule", "color": "#333", "strokeWidth": 1.2, "xOffset": -6, "x2Offset": 12},
             "encoding": {"x": {"field": "a", "type": "nominal"}, "x2": {"field": "b"}, "y": {"field": "y", "type": "quantitative"}}},
            {"data": {"name": "Gp"}, "mark": {"type": "text", "fontSize": 12, "color": "#111", "baseline": "middle"},
             "encoding": {"x": {"field": "a", "type": "nominal"}, "xOffset": {"field": "j", "type": "quantitative"}, "y": {"field": "ty", "type": "quantitative"}, "text": {"field": "label"}}}
          ]
        }
      ]
    }
  ]
}
